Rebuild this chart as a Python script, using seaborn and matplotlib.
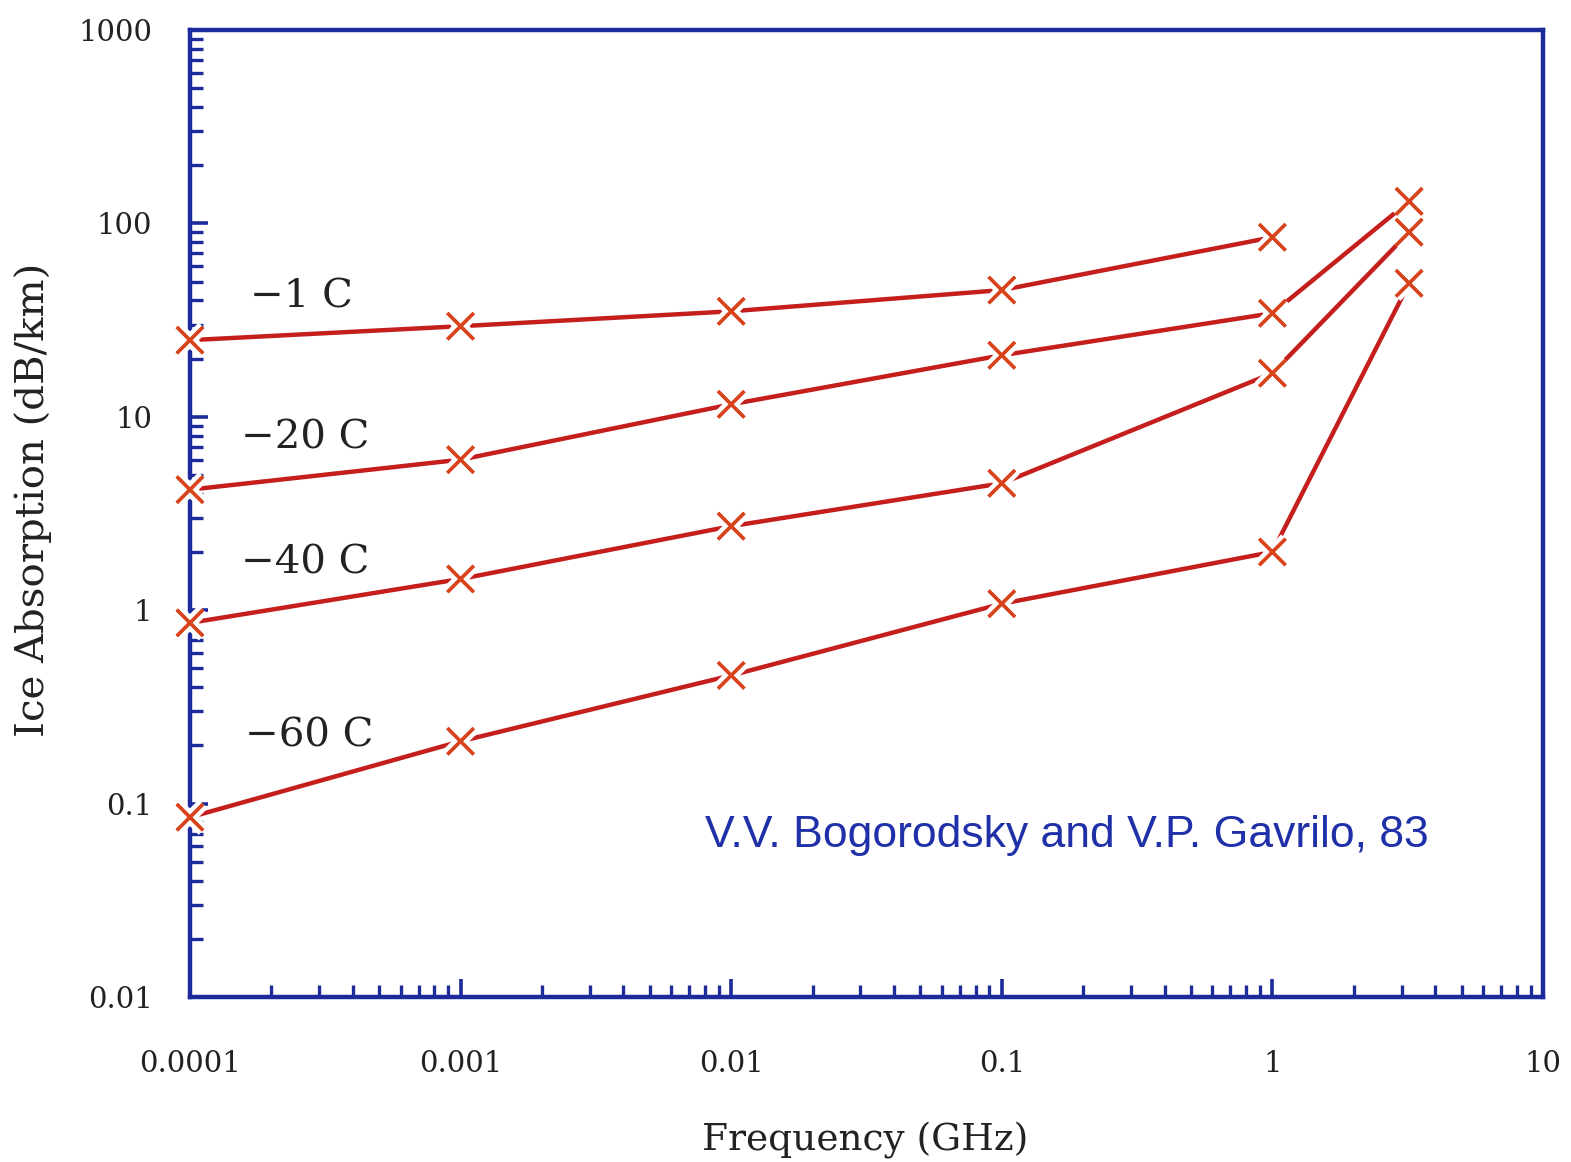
import numpy as np
import pandas as pd
import matplotlib
matplotlib.use("Agg")
import matplotlib.pyplot as plt
import matplotlib.patheffects as pe
from matplotlib.ticker import LogLocator, FixedLocator, FixedFormatter, NullFormatter
import seaborn as sns

# ---- data ----
temps = ["\u22121 C", "\u221220 C", "\u221240 C", "\u221260 C"]
freq_m1 = [1e-4, 1e-3, 1e-2, 1e-1, 1.0]
abs_m1 = [24.9, 29.4, 35.1, 45.2, 84.8]
freq_m20 = [1e-4, 1e-3, 1e-2, 1e-1, 1.0, 3.2]
abs_m20 = [4.2, 6.0, 11.6, 20.8, 34.3, 130.0]
freq_m40 = [1e-4, 1e-3, 1e-2, 1e-1, 1.0, 3.2]
abs_m40 = [0.86, 1.45, 2.72, 4.53, 16.8, 90.0]
freq_m60 = [1e-4, 1e-3, 1e-2, 1e-1, 1.0, 3.2]
abs_m60 = [0.085, 0.21, 0.46, 1.08, 2.0, 49.0]
label_x = [1.67e-4, 1.55e-4, 1.55e-4, 1.6e-4]
label_y = [41.5, 7.75, 1.75, 0.223]
xtick_vals = [1e-4, 1e-3, 1e-2, 1e-1, 1, 10]
xtick_labels = ["0.0001", "0.001", "0.01", "0.1", "1", "10"]
ytick_vals = [0.01, 0.1, 1, 10, 100, 1000]
ytick_labels = ["0.01", "0.1", "1", "10", "100", "1000"]
credit = "V.V. Bogorodsky and V.P. Gavrilo, 83"

frames = []
for t, f, a in zip(temps, [freq_m1, freq_m20, freq_m40, freq_m60],
                   [abs_m1, abs_m20, abs_m40, abs_m60]):
    frames.append(pd.DataFrame({"freq": f, "absorb": a, "temp": t}))
df = pd.concat(frames, ignore_index=True)

sns.set_style("white")
plt.rcParams["font.family"] = ["DejaVu Serif", "Liberation Serif"]

BLUE = "#1c2a9c"
RED = "#c41f1c"
MRED = "#d8431c"
INK = "#222222"

fig = plt.figure(figsize=(15.71, 11.62), dpi=100)
fig.patch.set_facecolor("white")
ax = fig.add_axes([0.1209, 0.1420, 0.9822 - 0.1209, 0.9742 - 0.1420])
ax.set_xscale("log")
ax.set_yscale("log")

sns.lineplot(data=df, x="freq", y="absorb", hue="temp", units="temp",
             estimator=None, palette=[RED] * 4, legend=False, sort=False,
             linewidth=3.2, ax=ax)

sns.scatterplot(data=df, x="freq", y="absorb", marker="x", color=MRED,
                s=360, linewidth=2.4, legend=False, zorder=6, ax=ax)
for coll in ax.collections:
    coll.set_clip_on(False)
    coll.set_path_effects([pe.withStroke(linewidth=9, foreground="white"), pe.Normal()])

ax.set_xlim(1e-4, 10)
ax.set_ylim(0.01, 1000)

for sp in ax.spines.values():
    sp.set_color(BLUE)
    sp.set_linewidth(3.2)
    sp.set_visible(True)

ax.xaxis.set_major_locator(FixedLocator(xtick_vals))
ax.xaxis.set_major_formatter(FixedFormatter(xtick_labels))
ax.yaxis.set_major_locator(FixedLocator(ytick_vals))
ax.yaxis.set_major_formatter(FixedFormatter(ytick_labels))
ax.xaxis.set_minor_locator(LogLocator(base=10, subs=np.arange(2, 10)))
ax.yaxis.set_minor_locator(LogLocator(base=10, subs=np.arange(2, 10)))
ax.xaxis.set_minor_formatter(NullFormatter())
ax.yaxis.set_minor_formatter(NullFormatter())

ax.tick_params(axis="both", which="both", direction="in", color=BLUE,
               top=False, right=False, left=True, bottom=True)
ax.tick_params(axis="both", which="major", length=13, width=2.6)
ax.tick_params(axis="both", which="minor", length=9, width=2.4)
ax.tick_params(axis="x", which="major", labelsize=21, pad=38, labelcolor=INK)
ax.tick_params(axis="y", which="major", labelsize=21, pad=27, labelcolor=INK)

ax.set_xlabel("Frequency (GHz)", fontsize=27, color=INK)
ax.set_ylabel("Ice Absorption (dB/km)", fontsize=29, color=INK)
ax.xaxis.label.set_verticalalignment("center")
ax.xaxis.set_label_coords(0.499, -0.148)
ax.yaxis.label.set_rotation_mode("default")
ax.yaxis.label.set_verticalalignment("center")
ax.yaxis.label.set_horizontalalignment("center")
ax.yaxis.set_label_coords(-0.116, 0.514)

for t, lx, ly in zip(temps, label_x, label_y):
    ax.text(lx, ly, t, fontsize=29, color=INK, ha="left", va="center")

ax.text(0.381, 0.167, credit, transform=ax.transAxes, fontsize=32,
        color="#1f30a8", ha="left", va="center",
        family=["Liberation Sans", "DejaVu Sans"])

fig.savefig("out.png", dpi=100, facecolor="white")
